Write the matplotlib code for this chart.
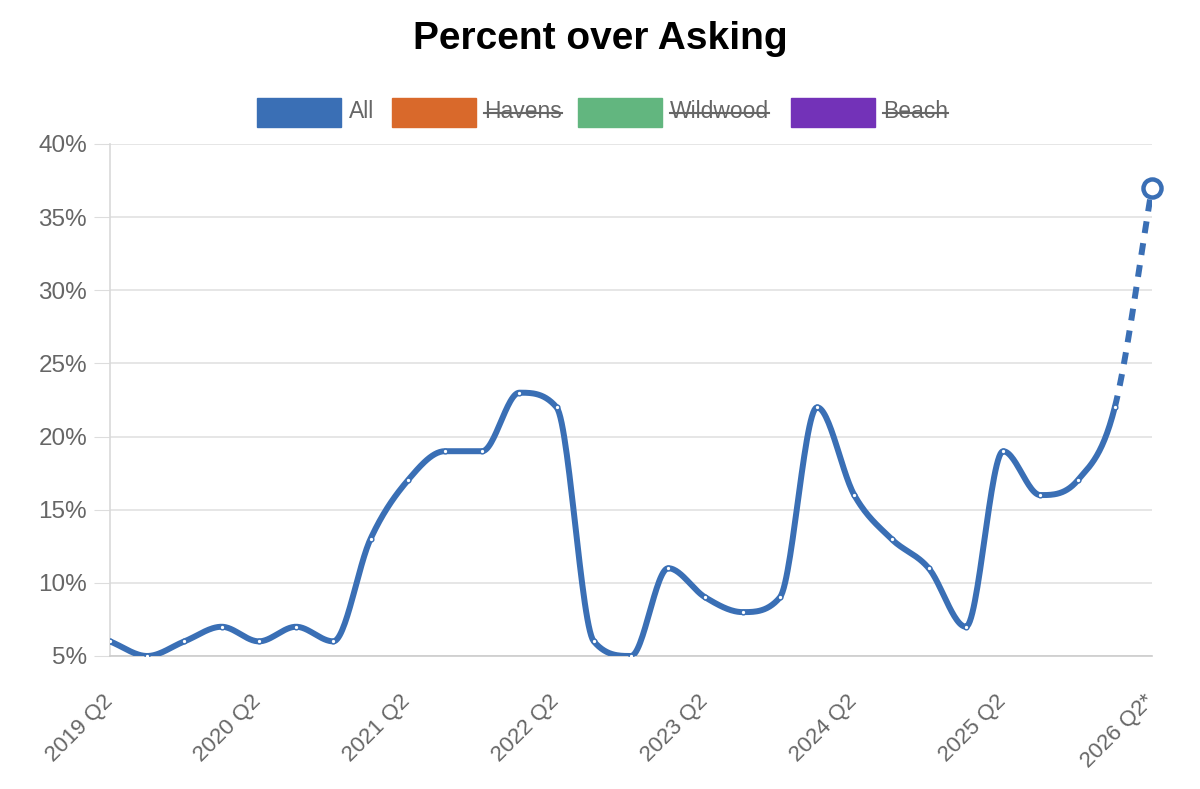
import numpy as np
import matplotlib.pyplot as plt
import matplotlib.transforms as mtransforms
from matplotlib.patches import Rectangle

plt.rcParams['font.family'] = ['Liberation Sans', 'DejaVu Sans']

# Quarterly data, 2019 Q2 .. 2026 Q2 (last one is a projection)
quarters = [f"{y} Q{q}" for y in range(2019, 2027) for q in range(1, 5)][1:30]
quarters[-1] = quarters[-1] + "*"
pct_all = [6, 5, 6, 7, 6, 7, 6, 13, 17, 19, 19, 23, 22, 6, 5, 11, 9, 8, 9,
           22, 16, 13, 11, 7, 19, 16, 17, 22, 37]

legend_names = ['All', 'Havens', 'Wildwood', 'Beach']
legend_colors = ['#3a6fb5', '#d9692b', '#62b67f', '#7332b8']
legend_hidden = [False, True, True, True]

blue = legend_colors[0]


def monotone_curve(x, y, n=30):
    # Fritsch-Carlson monotone cubic, like the chart library's smoothing
    x = np.asarray(x, float)
    y = np.asarray(y, float)
    h = np.diff(x)
    d = np.diff(y) / h
    m = np.zeros_like(y)
    m[0], m[-1] = d[0], d[-1]
    for i in range(1, len(y) - 1):
        m[i] = 0 if d[i - 1] * d[i] <= 0 else (d[i - 1] + d[i]) / 2
    for i in range(len(d)):
        if d[i] == 0:
            m[i] = m[i + 1] = 0
            continue
        a, b = m[i] / d[i], m[i + 1] / d[i]
        s = a * a + b * b
        if s > 9:
            t = 3 / np.sqrt(s)
            m[i], m[i + 1] = t * a * d[i], t * b * d[i]
    xs, ys = [], []
    for i in range(len(d)):
        t = np.linspace(0, 1, n)
        h00 = 2 * t**3 - 3 * t**2 + 1
        h10 = t**3 - 2 * t**2 + t
        h01 = -2 * t**3 + 3 * t**2
        h11 = t**3 - t**2
        xs.append(x[i] + t * h[i])
        ys.append(h00 * y[i] + h10 * h[i] * m[i] + h01 * y[i + 1] + h11 * h[i] * m[i + 1])
    return xs, ys


fig = plt.figure(figsize=(12, 7.89), dpi=100)
ax = fig.add_axes([110 / 1200, 1 - 656 / 789, 1042 / 1200, 512 / 789])

x = np.arange(len(pct_all))
segs_x, segs_y = monotone_curve(x, pct_all)
solid_x = np.concatenate(segs_x[:-1])
solid_y = np.concatenate(segs_y[:-1])
ax.plot(solid_x, solid_y, color=blue, lw=4.3, solid_capstyle='round', zorder=3)
ax.plot(segs_x[-1], segs_y[-1], color=blue, lw=4.3, dashes=(2.0, 1.7), zorder=3)
ax.plot(x[:-1], pct_all[:-1], 'o', ms=3.4, mfc='white', mec=blue, mew=1.0, zorder=4)
ax.plot(x[-1], pct_all[-1], 'o', ms=13, mfc='white', mec=blue, mew=3.2, zorder=5, clip_on=False)

ax.set_xlim(0, len(pct_all) - 1)
ax.set_ylim(5, 40)
ax.set_yticks(range(5, 41, 5))
ax.set_yticklabels([f"{v}%" for v in range(5, 41, 5)], fontsize=17.5, color='#666666')
ax.set_xticks(x[::4])
ax.set_xticklabels(quarters[::4], rotation=45, ha='right', va='top', rotation_mode='anchor',
                   fontsize=16, color='#666666')
ax.tick_params(axis='y', length=11.5, color='#dddddd', pad=5)
ax.tick_params(axis='x', length=0, pad=25)
shift = mtransforms.ScaledTranslation(-8 / 100, 0, fig.dpi_scale_trans)
for lab in ax.get_xticklabels():
    lab.set_transform(lab.get_transform() + shift)
ax.grid(axis='y', color='#e2e2e2', lw=1.2)
ax.set_axisbelow(True)
for side in ['top', 'right']:
    ax.spines[side].set_visible(False)
ax.spines['left'].set_color('#d9d9d9')
ax.spines['bottom'].set_color('#cccccc')
ax.spines['left'].set_linewidth(1.2)
ax.spines['bottom'].set_linewidth(1.2)

fig.text(0.5, 1 - 39 / 789, 'Percent over Asking', ha='center', va='center',
         fontsize=28, fontweight='bold', color='black')

# legend drawn by hand (hidden series shown struck through)
box_left = [257, 392, 578, 791]
for left, name, col, hidden in zip(box_left, legend_names, legend_colors, legend_hidden):
    fig.patches.append(Rectangle((left / 1200, 1 - 127 / 789), 84 / 1200, 29 / 789,
                                 transform=fig.transFigure, color=col))
    t = fig.text((left + 92) / 1200, 1 - 112 / 789, name, ha='left', va='center',
                 fontsize=16.5, color='#666666')
    if hidden:
        fig.canvas.draw()
        bb = t.get_window_extent().transformed(fig.transFigure.inverted())
        fig.lines.append(plt.Line2D([bb.x0, bb.x1], [1 - 113 / 789] * 2,
                                    transform=fig.transFigure, color='#666666', lw=1.5))

fig.savefig('out.png', dpi=100)
